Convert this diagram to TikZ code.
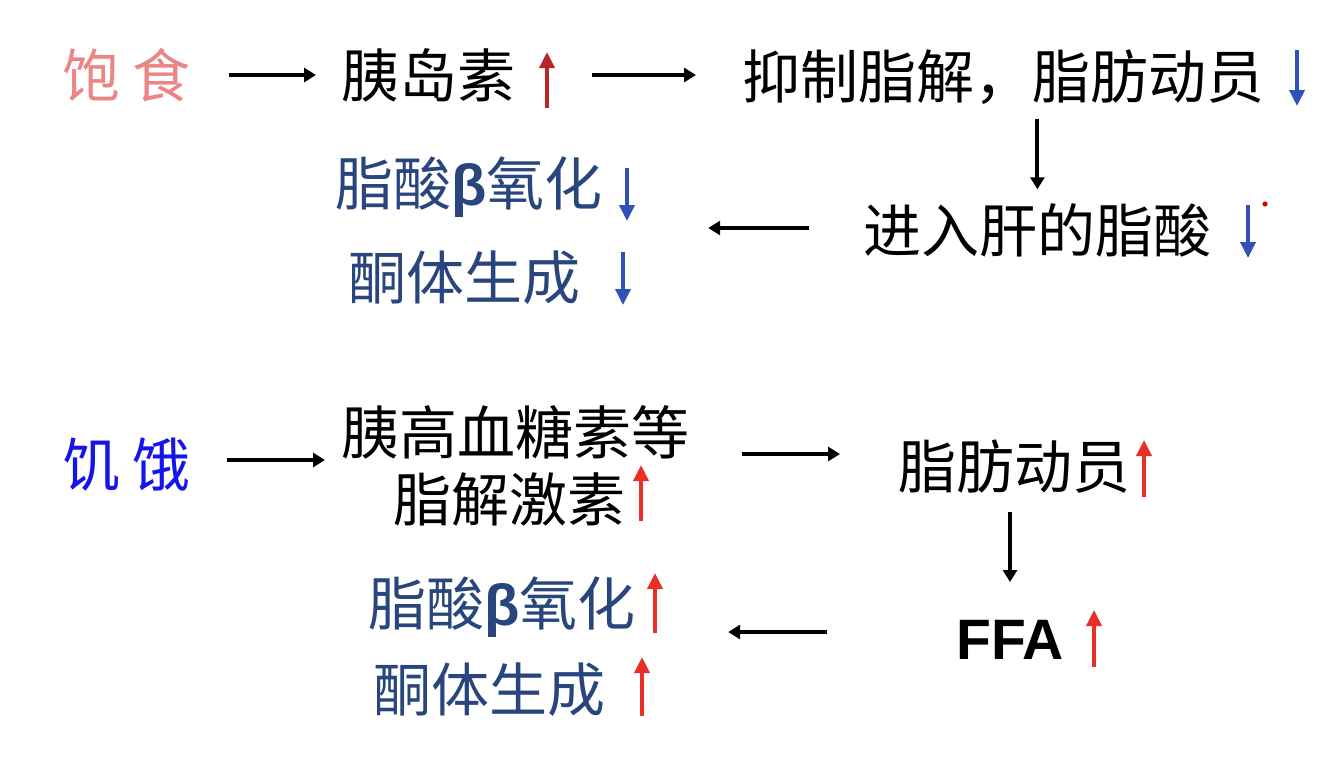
\documentclass[tikz,border=0pt]{standalone}
\usepackage{fontspec}
\setmainfont{Noto Sans CJK SC}
\newfontfamily\latinb{Liberation Sans}
\usetikzlibrary{arrows.meta}
\definecolor{pinkc}{RGB}{236,134,134}
\definecolor{hungerblue}{RGB}{20,20,235}
\definecolor{navyc}{RGB}{40,70,125}
\definecolor{downblue}{RGB}{50,80,188}
\definecolor{darkredc}{RGB}{190,35,35}
\definecolor{brightred}{RGB}{232,48,38}
\newcommand{\betab}{{\latinb\bfseries β}}
\begin{document}
\begin{tikzpicture}[x=0.5pt,y=-0.5pt,
  txt/.style={inner sep=0pt, anchor=west, font=\fontsize{29}{31}\selectfont},
  flow/.style={line width=2pt, -{Triangle[length=6pt,width=7pt]}},
  ind/.style={line width=1.8pt, -{Triangle[length=8pt,width=7.5pt]}},
  up/.style={ind, brightred},
  dn/.style={ind, downblue},
]
\fill[white] (0,0) rectangle (1336,778);
\useasboundingbox (0,0) rectangle (1336,778);

% ---------- top: fed state ----------
\node[txt, text=pinkc] (bao) at (62,75) {饱\hspace{6pt}食};
\node[txt] (yi) at (341,75) {胰岛素};
\node[txt] (yizhi) at (742,77) {抑制脂解，脂肪动员};
\node[txt] (jin) at (863,230) {进入肝的脂酸};
\node[txt, text=navyc] (zs1) at (335,187) {脂酸\betab 氧化};
\node[txt, text=navyc] (tt1) at (348,278) {酮体生成};

\draw[flow] ([xshift=19pt]bao.east) -- ([xshift=-12.5pt]bao.east -| yi.west);
\draw[flow] ([xshift=38pt]yi.east) -- ([xshift=-23pt]yi.east -| yizhi.west);
\draw[flow] ([yshift=-7.25pt]jin.north |- yizhi.south) -- ([yshift=6.75pt]jin.north);
\draw[flow] ([xshift=-27pt,yshift=1pt]jin.west) -- ([xshift=52.5pt,yshift=1pt]jin.west -| zs1.east);

\draw[ind, darkredc] (547,108) -- (547,52);
\draw[dn] (1297,50) -- (1297,106);
\draw[dn] (1248,205) -- (1248,258);
\draw[dn] (627,168) -- (627,221);
\draw[dn] (623,252) -- (623,305);
\fill[red!85!black] (1265,204) circle (1.3pt);

% ---------- bottom: fasting state ----------
\node[txt, text=hungerblue] (ji) at (62,465) {饥\hspace{6pt}饿};
\node[txt] (yg) at (341,432) {胰高血糖素等};
\node[txt] (zj) at (393,500) {脂解激素};
\node[txt] (dz) at (898,467) {脂肪动员};
\node[inner sep=0pt, font=\latinb\bfseries\fontsize{28.5}{30}\selectfont] (ffa) at (1010,640) {FFA};
\node[txt, text=navyc] (zs2) at (368,607) {脂酸\betab 氧化};
\node[txt, text=navyc] (tt2) at (373,690) {酮体生成};

\draw[flow] ([xshift=18pt,yshift=2.5pt]ji.east) -- ([xshift=-8pt,yshift=2.5pt]ji.east -| yg.west);
\draw[flow] ([xshift=26pt,yshift=6.5pt]yg.east |- dz.west) -- ([xshift=-29pt,yshift=6.5pt]dz.west);
\draw[flow] ([yshift=-8.75pt]ffa.north |- dz.south) -- ([yshift=19pt]ffa.north);
\draw[flow] ([xshift=-64.5pt,yshift=4pt]ffa.west) -- ([xshift=46pt,yshift=4pt]ffa.west -| zs2.east);

\draw[up] (641,521) -- (641,465);
\draw[up] (1144,497) -- (1144,440);
\draw[up] (1094,667) -- (1094,610);
\draw[up] (655,633) -- (655,573);
\draw[up] (642,716) -- (642,657);
\end{tikzpicture}
\end{document}
